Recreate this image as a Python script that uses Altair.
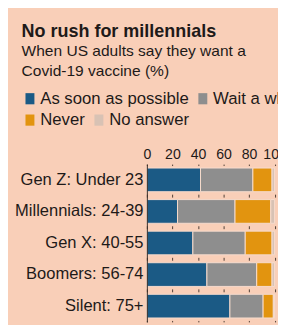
import altair as alt
import pandas as pd

groups = ["Gen Z: Under 23", "Millennials: 24-39", "Gen X: 40-55", "Boomers: 56-74", "Silent: 75+"]
answers = ["As soon as possible", "Wait a while", "Never", "No answer"]
asap = [42, 24, 36, 47, 65]
wait = [41, 45, 41, 39, 26]
never = [15, 28, 21, 12, 8]
no_answer = [2, 3, 2, 2, 1]
ticks = [0, 20, 40, 60, 80, 100]
colors = ["#1b5a85", "#8e8e8e", "#e2940f", "#d8c2b4"]

rows = []
for i, g in enumerate(groups):
    for j, vals in enumerate([asap, wait, never, no_answer]):
        rows.append({"group": g, "answer": answers[j], "order": j, "value": vals[i]})
df = pd.DataFrame(rows)

FONT = "Liberation Sans"
INK = "#1e1a18"
PEACH = "#f9cfb8"

base = alt.Chart(df).transform_stack(
    stack="value", as_=["x0", "x1"], groupby=["group"],
    sort=[alt.SortField("order", order="ascending")],
)

y_scale = alt.Scale(paddingInner=0.25, paddingOuter=0.125)
x_scale = alt.Scale(domain=[0, 100])

y_axis = alt.Axis(orient="left", ticks=False, domain=True, domainColor="#3a2e28",
                  domainWidth=1, labelFontSize=17, labelFont=FONT, labelColor=INK,
                  labelPadding=4, zindex=1)
x_axis = alt.Axis(orient="top", values=ticks, domain=False, ticks=False,
                  labelPadding=3, labelFontSize=14.5, labelFont=FONT, labelColor=INK,
                  labelFlush=False, labelOverlap=False,
                  grid=True, gridColor="#4a3b33", gridDash=[3, 29.5],
                  gridDashOffset=1.5, gridWidth=1, gridOpacity=1)


def legend(y):
    return alt.Legend(
        title=None, orient="none", legendX=-129, legendY=y,
        direction="horizontal",
        symbolType="M-0.8,-1H0.8V1H-0.8Z", symbolSize=132,
        symbolStrokeWidth=0, symbolOpacity=1,
        labelFontSize=17.2, labelFont=FONT, labelColor=INK,
        columnPadding=5, labelOffset=2,
    )


def segment_layer(keep, doms, cols, legend_y):
    return base.transform_filter(keep).mark_bar(
        stroke="#f7dccd", strokeWidth=1
    ).encode(
        y=alt.Y("group:N", sort=groups, title=None, scale=y_scale, axis=y_axis),
        x=alt.X("x0:Q", title=None, scale=x_scale, axis=x_axis),
        x2="x1:Q",
        color=alt.Color(
            "answer:N", sort=doms,
            scale=alt.Scale(domain=doms, range=cols),
            legend=legend(legend_y),
        ),
    )


first = segment_layer(alt.datum.order < 2, answers[:2], colors[:2], -76)
second = segment_layer(alt.datum.order >= 2, answers[2:], colors[2:], -54)

chart = alt.layer(first, second).resolve_scale(color="independent").properties(
    width=131.5,
    height=162.5,
    title=alt.TitleParams(
        text="No rush for millennials",
        subtitle=["When US adults say they want a", "Covid-19 vaccine (%)"],
        anchor="start", frame="group", dx=-129, offset=12,
        font=FONT, fontSize=18.5, fontWeight="bold", color=INK,
        subtitleFont=FONT, subtitleFontSize=16, subtitleColor=INK,
        subtitleLineHeight=20.5, subtitlePadding=3,
    ),
    autosize=alt.AutoSizeParams(type="none"),
    padding={"left": 143, "top": 156, "right": 3.5, "bottom": 0},
    background=PEACH,
).configure_view(stroke=None)

chart.save("out.html", embed_options={"renderer": "svg", "actions": False})
